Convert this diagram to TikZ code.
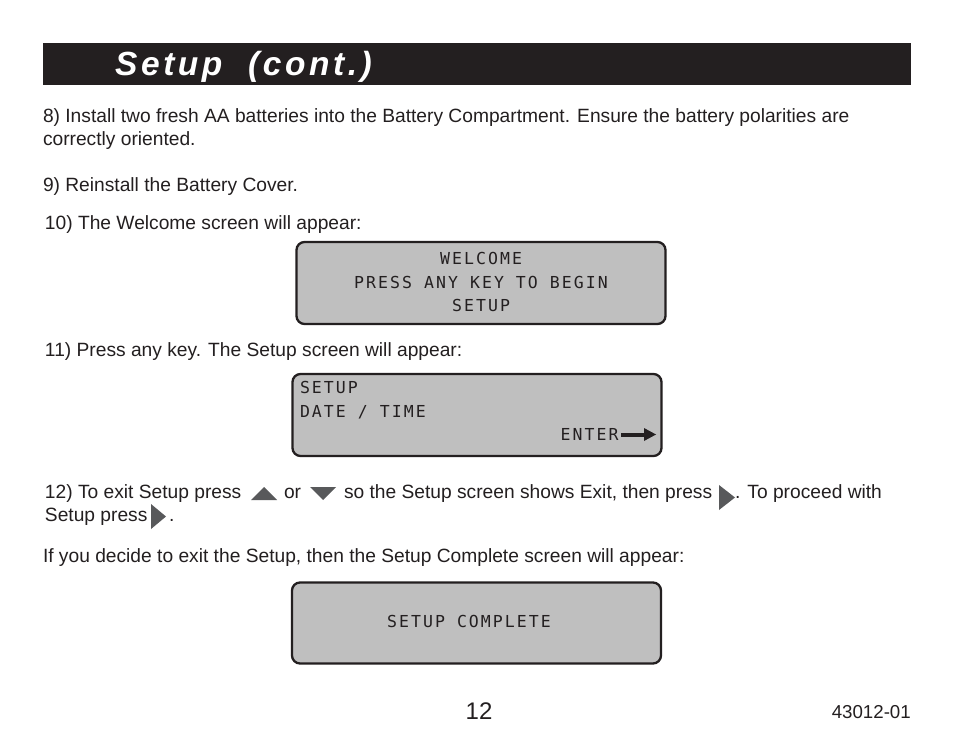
\documentclass[tikz,border=0pt]{standalone}
\usepackage{fontspec}
\setmainfont{Liberation Sans}
\newfontfamily\lcdfont[LetterSpace=12.5]{DejaVu Sans Mono}
\newfontfamily\titlefont[LetterSpace=10.6,BoldItalicFont={Liberation Sans Bold Italic}]{Liberation Sans}
\definecolor{barcol}{HTML}{231F20}
\definecolor{lcdcol}{HTML}{BFBFBF}
\definecolor{tricol}{HTML}{58595B}
\tikzset{
  x=1pt,y=-1pt,
  body/.style={anchor=base west,inner sep=0pt,outer sep=0pt,font=\fontsize{19.2}{22}\selectfont,text=barcol},
  lcdbox/.style={draw=barcol,fill=lcdcol,line width=2.3pt,rounded corners=8pt},
  lcd/.style={inner sep=0pt,outer sep=0pt,text=barcol,font=\lcdfont\fontsize{16.5}{23}\selectfont},
  tri/.style={fill=tricol,draw=none}
}
\begin{document}
\begin{tikzpicture}
\useasboundingbox (0,0) rectangle (954,738);
\fill[white] (0,0) rectangle (954,738);
\fill[barcol] (43,43) rectangle (911,85);
\node[anchor=base west,inner sep=0pt,text=white,font=\titlefont\bfseries\itshape\fontsize{33.5}{40}\selectfont] (title) at (115,75.5) {Setup\ \ (cont.)};

\node[body] (p8a) at (43,122.6) {8) Install two fresh AA batteries into the Battery Compartment. Ensure the battery polarities are};
\node[body] (p8b) at (43,145.6) {correctly oriented.};
\node[body] (p9) at (43,191.6) {9) Reinstall the Battery Cover.};
\node[body] (p10) at (45,230) {10) The Welcome screen will appear:};

\draw[lcdbox] (296.5,242) rectangle (665.5,324);
\node[lcd,anchor=base] (w1) at (481,264.4) {WELCOME};
\node[lcd,anchor=base] (w2) at (481,288.4) {PRESS ANY KEY TO BEGIN};
\node[lcd,anchor=base] (w3) at (481,311.4) {SETUP};

\node[body] (p11) at (45,356) {11) Press any key. The Setup screen will appear:};

\draw[lcdbox] (292.5,374) rectangle (661.5,456);
\node[lcd,anchor=base west] (s1) at (300,393.4) {SETUP};
\node[lcd,anchor=base west] (s2) at (300,417.4) {DATE / TIME};
\node[lcd,anchor=base east] (s3) at (618.5,440.4) {ENTER};
\draw[barcol,line width=4pt] (621,434.5) -- (646,434.5);
\fill[barcol] (644,428) -- (656,434.5) -- (644,441) -- cycle;

\node[body] (p12a) at (45,498) {12) To exit Setup press};
\fill[tri] (251,500) -- (277,500) -- (264,487) -- cycle;
\node[body] (p12b) at (284,498) {or};
\fill[tri] (310,487) -- (336,487) -- (323,500) -- cycle;
\node[body] (p12c) at (344,498) {so the Setup screen shows Exit, then press};
\fill[tri] (719,485) -- (719,510) -- (735,497.5) -- cycle;
\node[body] (p12d) at (735,498) {. To proceed with};
\node[body] (p12e) at (45,521) {Setup press};
\fill[tri] (151,504) -- (151,529) -- (166,516.5) -- cycle;
\node[body] (p12f) at (169,521) {.};

\node[body] (p13) at (43,562) {If you decide to exit the Setup, then the Setup Complete screen will appear:};

\draw[lcdbox] (292,582.5) rectangle (661,663.5);
\node[lcd,anchor=base] (c1) at (469,627) {SETUP COMPLETE};

\node[anchor=base west,inner sep=0pt,text=barcol,font=\fontsize{24}{28}\selectfont] (pg) at (465.5,719) {12};
\node[anchor=base east,inner sep=0pt,text=barcol,font=\fontsize{18.7}{22}\selectfont] (doc) at (911,718) {43012-01};
\end{tikzpicture}
\end{document}
